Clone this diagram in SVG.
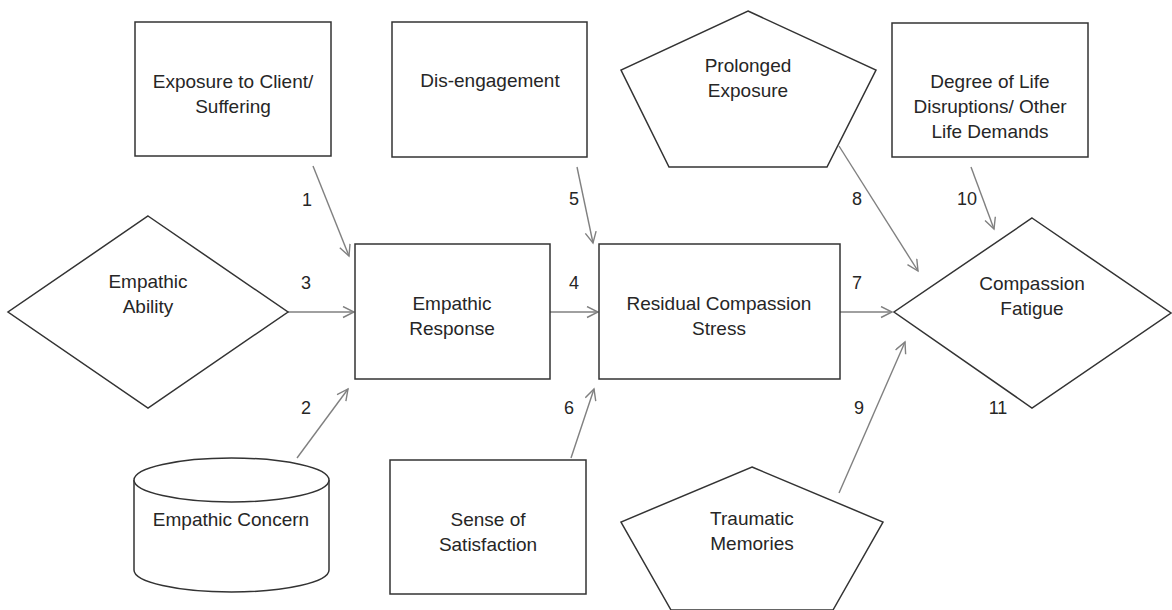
<svg xmlns="http://www.w3.org/2000/svg" width="1172" height="610" viewBox="0 0 1172 610">
<style>
.shape{fill:#fff;stroke:#333;stroke-width:1.5}
.t{font-family:"Liberation Sans",Arial,sans-serif;font-size:19px;fill:#262626;text-anchor:middle}
.n{font-family:"Liberation Sans",Arial,sans-serif;font-size:18px;fill:#262626;text-anchor:middle}
.c{stroke:#808080;stroke-width:1.4;fill:none;marker-end:url(#arr)}
</style>
<defs>
<marker id="arr" markerUnits="userSpaceOnUse" markerWidth="14" markerHeight="14" refX="12" refY="6" orient="auto">
<path d="M1,0.5 L12,6 L1,11.5" fill="none" stroke="#808080" stroke-width="1.4"/>
</marker>
</defs>
<rect width="1172" height="610" fill="#fff"/>
<g id="connectors">
<line class="c" x1="313" y1="166" x2="349" y2="256"/>
<line class="c" x1="297" y1="458" x2="348" y2="389"/>
<line class="c" x1="288" y1="312" x2="354" y2="312"/>
<line class="c" x1="550" y1="312" x2="598" y2="312"/>
<line class="c" x1="577" y1="167" x2="593" y2="243"/>
<line class="c" x1="571" y1="458" x2="594" y2="389"/>
<line class="c" x1="840" y1="312" x2="892" y2="312"/>
<line class="c" x1="839" y1="146" x2="918" y2="271"/>
<line class="c" x1="839" y1="493" x2="905" y2="342"/>
<line class="c" x1="971" y1="167" x2="994" y2="229"/>
<text class="n" x="307" y="206">1</text>
<text class="n" x="306" y="414">2</text>
<text class="n" x="306" y="289">3</text>
<text class="n" x="574" y="289">4</text>
<text class="n" x="574" y="205">5</text>
<text class="n" x="569" y="414">6</text>
<text class="n" x="857" y="289">7</text>
<text class="n" x="857" y="205">8</text>
<text class="n" x="859" y="414">9</text>
<text class="n" x="967" y="205">10</text>
<text class="n" x="998" y="414">11</text>
</g>
<g id="exposure">
<rect class="shape" x="135" y="22" width="196" height="134"/>
<text class="t" x="233" y="88">Exposure to Client/</text>
<text class="t" x="233" y="113">Suffering</text>
</g>
<g id="disengagement">
<rect class="shape" x="392" y="22" width="195" height="135"/>
<text class="t" x="490" y="87">Dis-engagement</text>
</g>
<g id="prolonged">
<polygon class="shape" points="748,11 876,70 827,167 669,167 621,70"/>
<text class="t" x="748" y="72">Prolonged</text>
<text class="t" x="748" y="97">Exposure</text>
</g>
<g id="degree">
<rect class="shape" x="892" y="23" width="196" height="134"/>
<text class="t" x="990" y="88">Degree of Life</text>
<text class="t" x="990" y="113">Disruptions/ Other</text>
<text class="t" x="990" y="138">Life Demands</text>
</g>
<g id="ability">
<polygon class="shape" points="148,216 288,312 148,408 8,312"/>
<text class="t" x="148" y="288">Empathic</text>
<text class="t" x="148" y="313">Ability</text>
</g>
<g id="response">
<rect class="shape" x="355" y="244" width="195" height="135"/>
<text class="t" x="452" y="310">Empathic</text>
<text class="t" x="452" y="335">Response</text>
</g>
<g id="residual">
<rect class="shape" x="599" y="244" width="241" height="135"/>
<text class="t" x="719" y="310">Residual Compassion</text>
<text class="t" x="719" y="335">Stress</text>
</g>
<g id="fatigue">
<polygon class="shape" points="1032,218 1171,313 1032,408 894,312"/>
<text class="t" x="1032" y="290">Compassion</text>
<text class="t" x="1032" y="315">Fatigue</text>
</g>
<g id="concern">
<path class="shape" d="M134,480 A97.5,22 0 0 1 329,480 L329,570 A97.5,22 0 0 1 134,570 Z"/>
<path class="shape" fill="none" d="M134,480 A97.5,22 0 0 0 329,480"/>
<text class="t" x="231" y="526">Empathic Concern</text>
</g>
<g id="satisfaction">
<rect class="shape" x="390" y="460" width="196" height="134"/>
<text class="t" x="488" y="526">Sense of</text>
<text class="t" x="488" y="551">Satisfaction</text>
</g>
<g id="traumatic">
<polygon class="shape" points="752,467 883,522 833,610 671,610 621,522"/>
<text class="t" x="752" y="525">Traumatic</text>
<text class="t" x="752" y="550">Memories</text>
</g>
</svg>
